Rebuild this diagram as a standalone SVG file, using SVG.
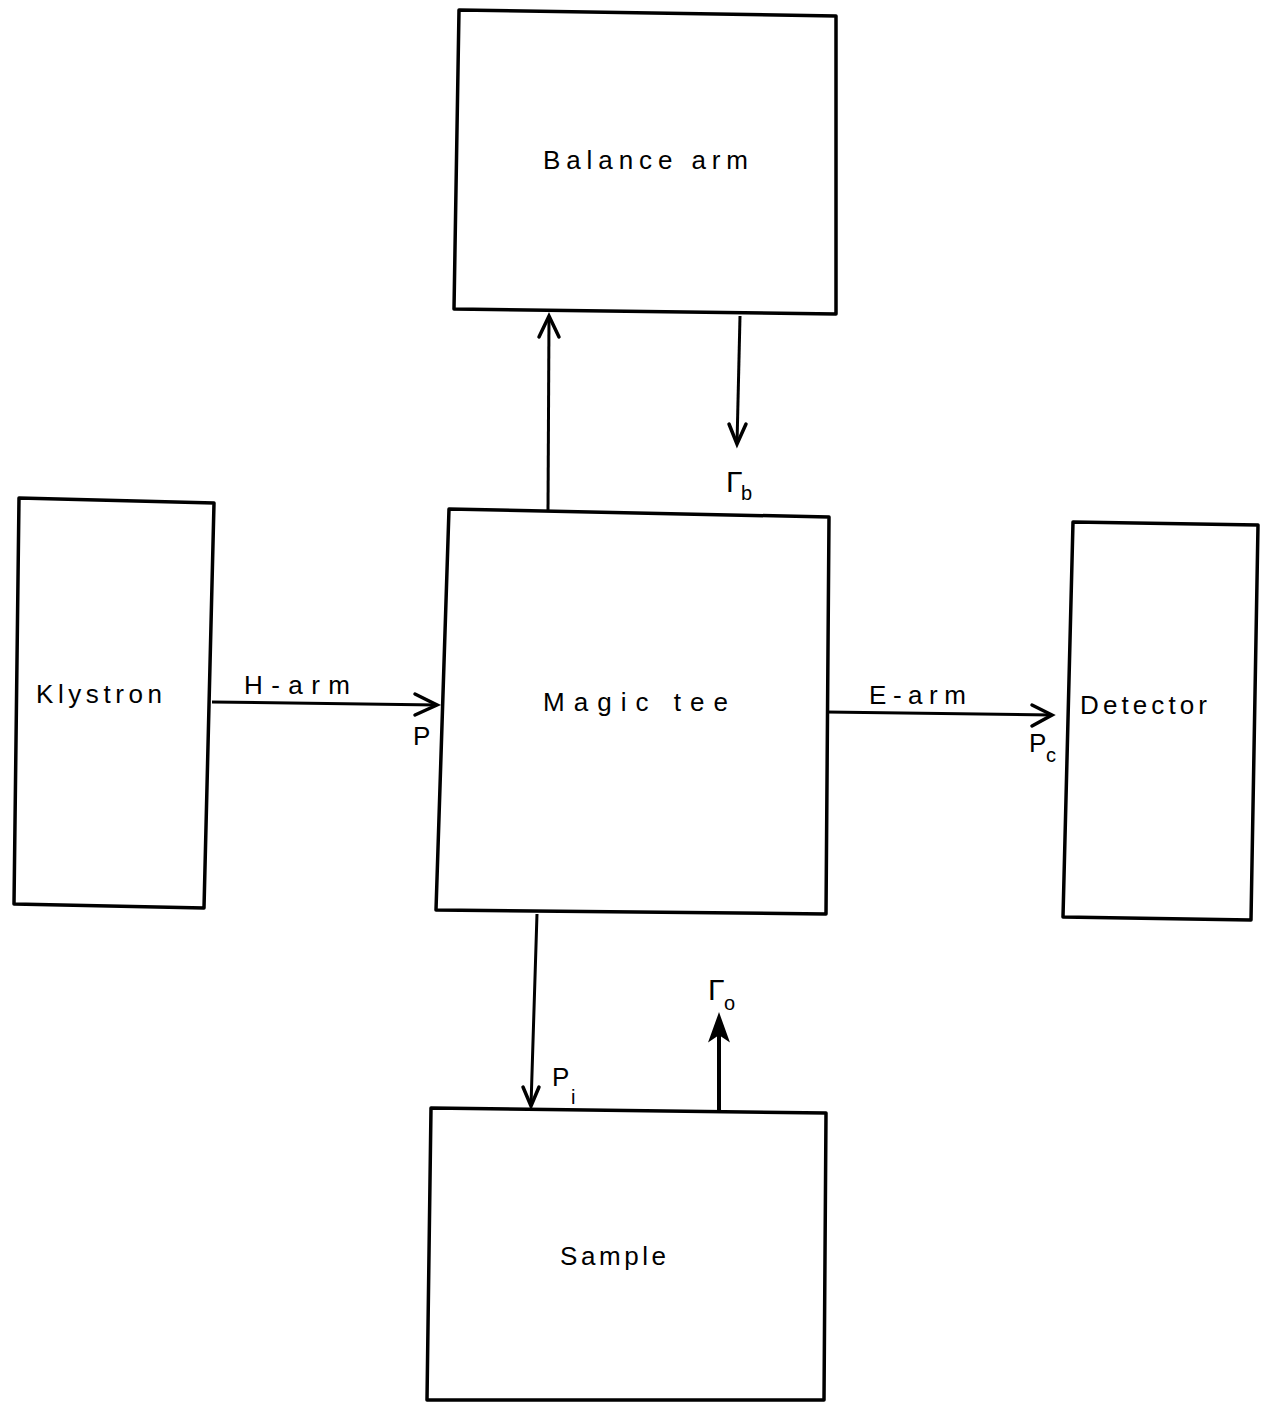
<svg xmlns="http://www.w3.org/2000/svg" width="1262" height="1407" viewBox="0 0 1262 1407">
<defs>
<style>
.box{fill:none;stroke:#000;stroke-width:3.5;stroke-linejoin:round}
.ln{fill:none;stroke:#000;stroke-width:3}
.ah{fill:none;stroke:#000;stroke-width:3.5;stroke-linecap:round;stroke-linejoin:miter}
.t{font-family:"Liberation Sans",Arial,sans-serif;font-size:26px;fill:#000}
.g{font-family:"Liberation Sans",Arial,sans-serif;font-size:30px;fill:#000}
.s{font-family:"Liberation Sans",Arial,sans-serif;font-size:20px;fill:#000}
</style>
</defs>
<rect width="1262" height="1407" fill="#fff"/>
<g id="balance-arm">
<polygon class="box" points="459,10 836,16 836,314 454,309"/>
<text class="t" x="543" y="169" textLength="205" lengthAdjust="spacing">Balance arm</text>
</g>
<g id="klystron">
<polygon class="box" points="19,498 214,503 204,908 14,904"/>
<text class="t" x="36" y="703" textLength="126" lengthAdjust="spacing">Klystron</text>
</g>
<g id="magic-tee">
<polygon class="box" points="449,509 829,517 826,914 436,910"/>
<text class="t" x="543" y="711" textLength="185" lengthAdjust="spacing">Magic  tee</text>
</g>
<g id="detector">
<polygon class="box" points="1073,522 1258,525 1251,920 1063,917"/>
<text class="t" x="1080" y="714" textLength="127" lengthAdjust="spacing">Detector</text>
</g>
<g id="sample">
<polygon class="box" points="431,1108 826,1113 824,1400 427,1400"/>
<text class="t" x="560" y="1265" textLength="106" lengthAdjust="spacing">Sample</text>
</g>
<g id="connectors">
<line class="ln" x1="548" y1="510" x2="549" y2="316"/>
<polyline class="ah" points="539,337 549,316 559,337"/>
<line class="ln" x1="740" y1="316" x2="737" y2="444"/>
<polyline class="ah" points="729,424 737,444 746,424"/>
<text class="g" x="726" y="492">Γ</text>
<text class="s" x="741" y="500">b</text>
<line class="ln" x1="212" y1="702" x2="437" y2="705"/>
<polyline class="ah" points="415,694 437,705 415,715"/>
<text class="t" x="244" y="694" textLength="106" lengthAdjust="spacing">H-arm</text>
<text class="t" x="413" y="745">P</text>
<line class="ln" x1="826" y1="712" x2="1052" y2="715"/>
<polyline class="ah" points="1032,705 1052,715 1032,726"/>
<text class="t" x="869" y="704" textLength="97" lengthAdjust="spacing">E-arm</text>
<text class="t" x="1029" y="752">P</text>
<text class="s" x="1046" y="762">c</text>
<line class="ln" x1="537" y1="914" x2="531" y2="1106"/>
<polyline class="ah" points="523,1087 531,1106 539,1087"/>
<text class="t" x="552" y="1086">P</text>
<text class="s" x="571" y="1104">i</text>
<line class="ln" x1="719" y1="1110" x2="719" y2="1020" style="stroke-width:4"/>
<polygon points="719,1015 710,1040 719,1034 728,1040" fill="#000" stroke="#000" stroke-width="2"/>
<text class="g" x="708" y="1000">Γ</text>
<text class="s" x="724" y="1010">o</text>
</g>
</svg>
